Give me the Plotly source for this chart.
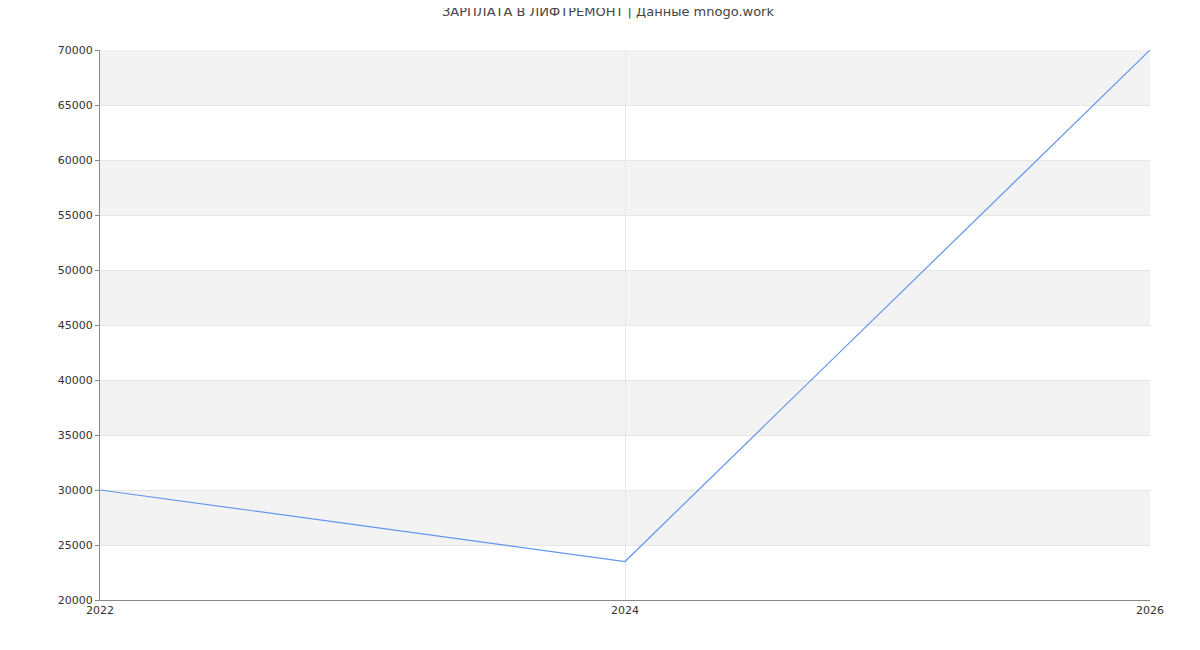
import plotly.graph_objects as go

years = [2022, 2024, 2026]
salary = [30000, 23500, 70000]
y_ticks = list(range(20000, 70001, 5000))
x_ticks = [2022, 2024, 2026]
title = "ЗАРПЛАТА В ЛИФТРЕМОНТ | Данные mnogo.work"

fig = go.Figure()
fig.add_trace(go.Scatter(x=years, y=salary, mode="lines",
                         line=dict(color="#6495ED", width=1.2), hoverinfo="x+y"))

shapes = []
for i, lo in enumerate(y_ticks[:-1]):
    if i % 2 == 1:
        shapes.append(dict(type="rect", xref="paper", yref="y", x0=0, x1=1,
                           y0=lo, y1=y_ticks[i + 1], fillcolor="#f3f3f3",
                           line=dict(width=0), layer="below"))

fig.update_layout(
    width=1200, height=650,
    margin=dict(l=92, r=58, t=42, b=58),
    paper_bgcolor="white", plot_bgcolor="white",
    font=dict(family="DejaVu Sans", size=11, color="#333"),
    title=dict(text=title, x=0.5, y=0.994, xanchor="center", yanchor="middle",
               font=dict(size=13, color="#444")),
    showlegend=False,
    shapes=shapes,
    xaxis=dict(range=[2022, 2026], tickvals=x_ticks, ticktext=[str(v) for v in x_ticks],
               showgrid=True, gridcolor="#e6e6e6", zeroline=False,
               showline=True, linecolor="#888", ticks="", ticklen=0),
    yaxis=dict(range=[20000, 70000], tickvals=y_ticks, tickformat="d", showgrid=True,
               gridcolor="#e6e6e6", zeroline=False, showline=True, linecolor="#888",
               ticks="outside", ticklen=4, tickcolor="#888"),
)
fig.write_html("out.html")
